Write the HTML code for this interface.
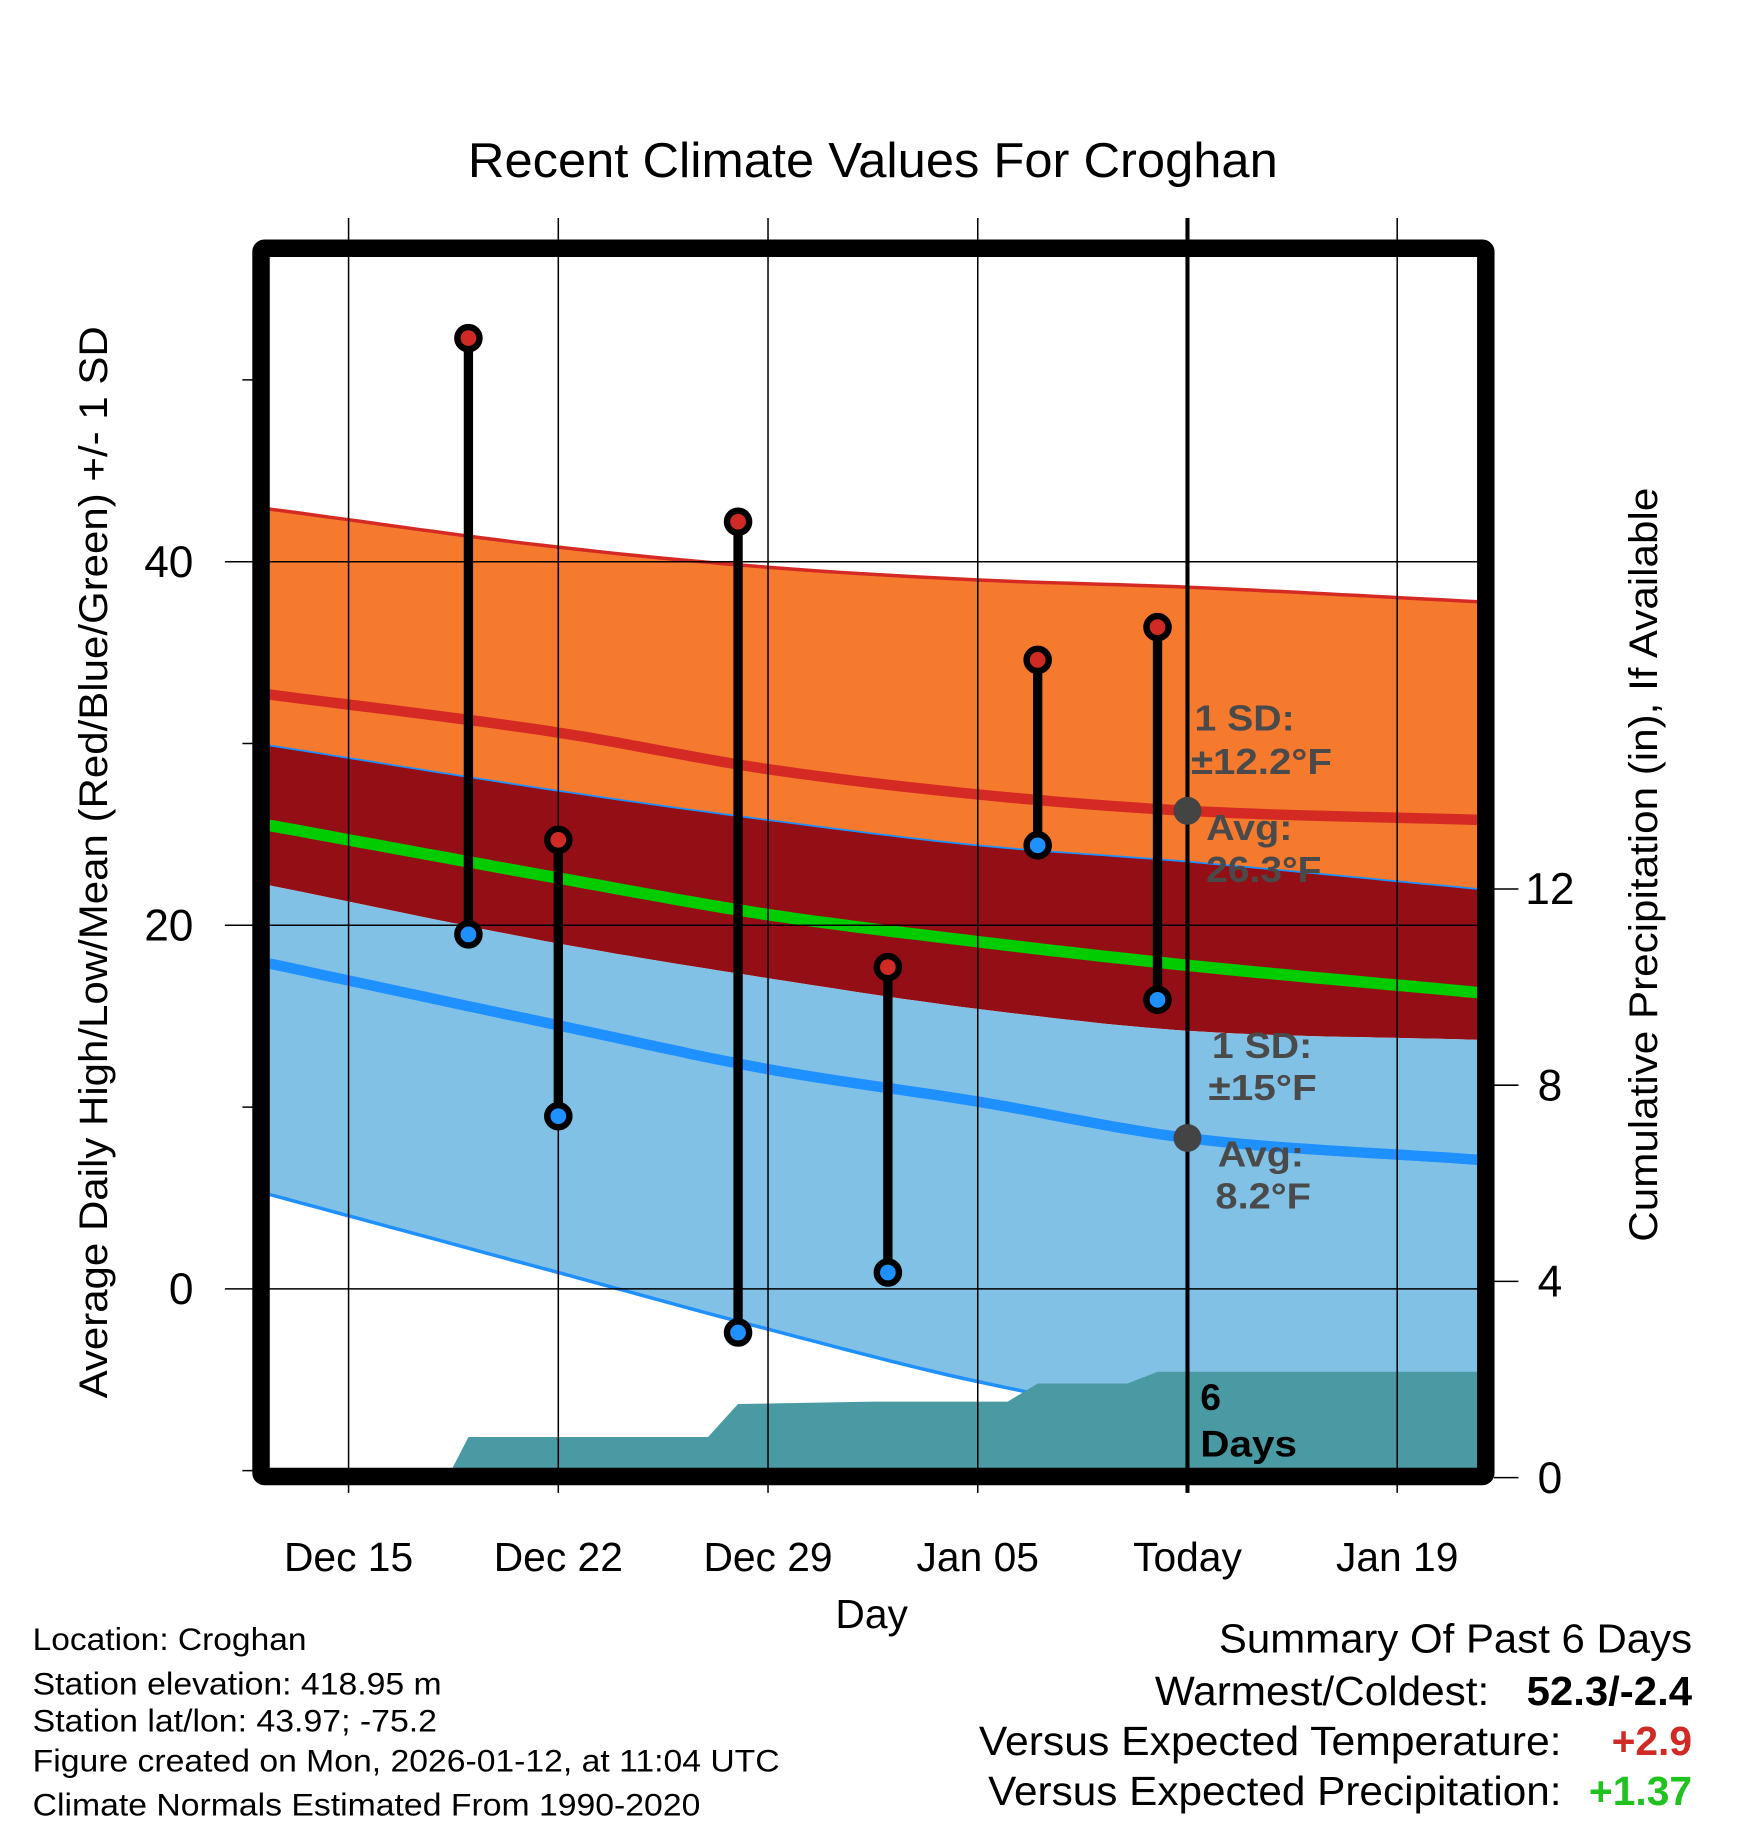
<!DOCTYPE html>
<html><head><meta charset="utf-8"><style>
html,body{margin:0;padding:0;background:#fff;}
svg{display:block;font-family:"Liberation Sans",Arial,sans-serif;}
</style></head><body>
<svg id="chart" width="1748" height="1828" viewBox="0 0 1500 1568.6" xmlns="http://www.w3.org/2000/svg">
<text x="749" y="152" font-size="42" text-anchor="middle" textLength="695" lengthAdjust="spacingAndGlyphs">Recent Climate Values For Croghan</text>
<g id="plot"></g>
<text x="748" y="1397" font-size="35" text-anchor="middle">Day</text>
<text transform="translate(92,740) rotate(-90)" font-size="34" text-anchor="middle" textLength="920" lengthAdjust="spacingAndGlyphs">Average Daily High/Low/Mean (Red/Blue/Green) +/- 1 SD</text>
<text transform="translate(1422,742) rotate(-90)" font-size="34" text-anchor="middle" textLength="647" lengthAdjust="spacingAndGlyphs">Cumulative Precipitation (in), If Available</text>
<g font-size="27">
<text x="28" y="1416" textLength="235" lengthAdjust="spacingAndGlyphs">Location: Croghan</text>
<text x="28" y="1454" textLength="351" lengthAdjust="spacingAndGlyphs">Station elevation: 418.95 m</text>
<text x="28" y="1486" textLength="347" lengthAdjust="spacingAndGlyphs">Station lat/lon: 43.97; -75.2</text>
<text x="28" y="1520" textLength="641" lengthAdjust="spacingAndGlyphs">Figure created on Mon, 2026-01-12, at 11:04 UTC</text>
<text x="28" y="1558" textLength="573" lengthAdjust="spacingAndGlyphs">Climate Normals Estimated From 1990-2020</text>
</g>
<g font-size="35">
<text x="1452" y="1418" text-anchor="end" textLength="406" lengthAdjust="spacingAndGlyphs">Summary Of Past 6 Days</text>
<text x="1278" y="1463" text-anchor="end" textLength="287" lengthAdjust="spacingAndGlyphs">Warmest/Coldest:</text>
<text x="1452" y="1463" text-anchor="end" font-weight="bold" textLength="142" lengthAdjust="spacingAndGlyphs">52.3/-2.4</text>
<text x="1340" y="1506" text-anchor="end" textLength="500" lengthAdjust="spacingAndGlyphs">Versus Expected Temperature:</text>
<text x="1452" y="1506" text-anchor="end" font-weight="bold" fill="#d02a25">+2.9</text>
<text x="1340" y="1549" text-anchor="end" textLength="492" lengthAdjust="spacingAndGlyphs">Versus Expected Precipitation:</text>
<text x="1452" y="1549" text-anchor="end" font-weight="bold" fill="#1fc21f">+1.37</text>
</g>
</svg>
<script>
// Normals (days relative to today)
const normDays = [-30.65, -21, -14.04, -7, 0, 9.69];
const highPlusSD = [42.9, 40.8, 39.7, 39.0, 38.6, 37.8];
const highAvg = [32.7, 30.6, 28.6, 27.2, 26.3, 25.8];
const highMinusSD = [29.9, 27.4, 25.8, 24.4, 23.5, 22.0];
const meanAvg = [25.5, 22.6, 20.6, 19.1, 17.8, 16.3];
const lowPlusSD = [22.2, 19.0, 17.1, 15.4, 14.2, 13.7];
const lowAvg = [17.9, 14.5, 12.1, 10.3, 8.3, 7.1];
const lowMinusSD = [5.2, 0.9, -2.2, -5.1, -7.2, -8.6];
// Observations
const obsDays = [-24, -21, -15, -10, -5, -1];
const obsHigh = [52.3, 24.7, 42.2, 17.7, 34.6, 36.4];
const obsLow = [19.5, 9.5, -2.4, 0.9, 24.4, 15.9];
// Cumulative precipitation
const precDays = [-24.7, -24, -16, -15, -10.5, -6, -5, -2, -1, 9.69];
const precVals = [0, 0.83, 0.83, 1.5, 1.55, 1.55, 1.92, 1.92, 2.16, 2.16];
// Axes ticks
const xTickDays = [-28, -21, -14, -7, 0, 7];
const xTickLabels = ["Dec 15", "Dec 22", "Dec 29", "Jan 05", "Today", "Jan 19"];
const yMajor = [40, 20, 0];
const yMinor = [50, 30, 10, -10];
const y2Ticks = [0, 4, 8, 12];

const X = d => 1019 + d * 25.71;
const Y = t => 1106 - t * 15.6;
const Y2 = p => 1268 - p * 42.1;
const L = 231, R = 1268, T = 220, B = 1260;
const NS = "http://www.w3.org/2000/svg";
const g = document.getElementById('plot');
function mk(tag, attrs, parent) {
  const e = document.createElementNS(NS, tag);
  for (const k in attrs) e.setAttribute(k, attrs[k]);
  (parent || g).appendChild(e);
  return e;
}
// smooth sampling via monotone-ish cubic interpolation
function interp(ds, vs, d) {
  let i = 0;
  while (i < ds.length - 2 && d > ds[i + 1]) i++;
  const x0 = ds[i], x1 = ds[i + 1], y0 = vs[i], y1 = vs[i + 1];
  const m = (a) => {
    if (a === 0) return (vs[1] - vs[0]) / (ds[1] - ds[0]);
    if (a === ds.length - 1) return (vs[a] - vs[a - 1]) / (ds[a] - ds[a - 1]);
    return ((vs[a] - vs[a - 1]) / (ds[a] - ds[a - 1]) + (vs[a + 1] - vs[a]) / (ds[a + 1] - ds[a])) / 2;
  };
  const h = x1 - x0, t = (d - x0) / h;
  const h00 = 2*t*t*t - 3*t*t + 1, h10 = t*t*t - 2*t*t + t, h01 = -2*t*t*t + 3*t*t, h11 = t*t*t - t*t;
  return h00*y0 + h10*h*m(i) + h01*y1 + h11*h*m(i + 1);
}
function smoothPts(vals) {
  const out = [];
  const a = normDays[0], b = normDays[normDays.length - 1];
  for (let k = 0; k <= 80; k++) {
    const d = a + (b - a) * k / 80;
    out.push(X(d).toFixed(1) + ',' + Y(interp(normDays, vals, d)).toFixed(1));
  }
  return out;
}
const pts = (ds, vs, f) => ds.map((d, i) => X(d).toFixed(1) + ',' + f(vs[i]).toFixed(1));
const clip = mk('clipPath', {id: 'pc'});
mk('rect', {x: L, y: T, width: R - L, height: B - T}, clip);
const pg = mk('g', {'clip-path': 'url(#pc)'});
function band(top, bot, fill, name) {
  const p = smoothPts(top).concat(smoothPts(bot).reverse());
  const e = mk('polygon', {points: p.join(' '), fill: fill}, pg);
  
  
}
function line(vals, color, w, name) {
  const e = mk('polyline', {points: smoothPts(vals).join(' '), fill: 'none', stroke: color, 'stroke-width': w}, pg);
  
  
}
band(highPlusSD, highMinusSD, '#f57a2e', 'high-sd-band');
band(highMinusSD, lowPlusSD, '#930f15', 'overlap-band');
band(lowPlusSD, lowMinusSD, '#82c1e6', 'low-sd-band');
line(highPlusSD, '#d42a23', 3, 'high-plus-sd-line');
line(highAvg, '#d42a23', 9, 'avg-high-line');
line(highMinusSD, '#1e90ff', 1.5, 'high-minus-sd-line');
line(meanAvg, '#00cc00', 10, 'avg-mean-line');
line(lowAvg, '#1e90ff', 9, 'avg-low-line');
line(lowMinusSD, '#1e90ff', 3, 'low-minus-sd-line');
// precip
{
  const p = pts(precDays, precVals, Y2);
  p.push(X(precDays[precDays.length - 1]).toFixed(1) + ',' + Y2(0));
  p.push(X(precDays[0]).toFixed(1) + ',' + Y2(0));
  const e = mk('polygon', {points: p.join(' '), fill: '#4a9aa3'}, pg);
  
  
}
// grid verticals
xTickDays.forEach((d, i) => {
  const today = d === 0;
  const e = mk('line', {x1: X(d), x2: X(d), y1: 187, y2: 1281, stroke: '#000', 'stroke-width': today ? 3.5 : 1.3});
  
  
  const t = mk('text', {x: X(d), y: 1348, 'font-size': 35, 'text-anchor': 'middle'});
  t.textContent = xTickLabels[i];
  
  
});
yMajor.forEach(v => {
  const e = mk('line', {x1: 193, x2: R, y1: Y(v), y2: Y(v), stroke: '#000', 'stroke-width': 1.3});
  
  
  const t = mk('text', {x: 166, y: Y(v) + 13, 'font-size': 38, 'text-anchor': 'end'});
  t.textContent = v;
  
  
});
yMinor.forEach(v => {
  const e = mk('line', {x1: 208, x2: L, y1: Y(v), y2: Y(v), stroke: '#000', 'stroke-width': 1.3});
  
  
});
y2Ticks.forEach(v => {
  const e = mk('line', {x1: 1282, x2: 1303, y1: Y2(v), y2: Y2(v), stroke: '#000', 'stroke-width': 1.3});
  
  
  const t = mk('text', {x: 1330, y: Y2(v) + 13, 'font-size': 38, 'text-anchor': 'middle'});
  t.textContent = v;
  
  
});
// annotations
function txt(x, y, s, size, w, fill, name, len) {
  const t = mk('text', {x: x, y: y, 'font-size': size, 'font-weight': w, fill: fill});
  if (len) { t.setAttribute('textLength', len); t.setAttribute('lengthAdjust', 'spacingAndGlyphs'); }
  t.textContent = s;
  
  
}
const gray = '#4a4a4a';
txt(1025, 627, '1 SD:', 31, 'bold', gray, 'high-sd-label', 86);
txt(1022, 664, '±12.2°F', 31, 'bold', gray, 'high-sd-value', 121);
txt(1035, 721, 'Avg:', 31, 'bold', gray, 'high-avg-label', 74);
txt(1035, 757, '26.3°F', 31, 'bold', gray, 'high-avg-value', 99);
txt(1040, 908, '1 SD:', 31, 'bold', gray, 'low-sd-label', 86);
txt(1037, 944, '±15°F', 31, 'bold', gray, 'low-sd-value', 93);
txt(1045, 1001, 'Avg:', 31, 'bold', gray, 'low-avg-label', 74);
txt(1043, 1037, '8.2°F', 31, 'bold', gray, 'low-avg-value', 82);
{
  const c1 = mk('circle', {cx: X(0), cy: Y(highAvg[4]), r: 12, fill: '#444'});
  
  
  const c2 = mk('circle', {cx: X(0), cy: Y(lowAvg[4]), r: 12, fill: '#444'});
  
  
}
txt(1030, 1210, '6', 32, 'bold', '#000', 'days-count');
txt(1030, 1250, 'Days', 32, 'bold', '#000', 'days-label', 83);
// observations
obsDays.forEach((d, i) => {
  const s = mk('line', {x1: X(d), x2: X(d), y1: Y(obsHigh[i]), y2: Y(obsLow[i]), stroke: '#000', 'stroke-width': 8});
  
  
  const h = mk('circle', {cx: X(d), cy: Y(obsHigh[i]), r: 9.5, fill: '#d02a25', stroke: '#000', 'stroke-width': 5.5});
  
  
  const l = mk('circle', {cx: X(d), cy: Y(obsLow[i]), r: 9.5, fill: '#1e90ff', stroke: '#000', 'stroke-width': 5.5});
  
  
});
// frame
{
  const f = mk('rect', {x: 224, y: 213, width: 1051, height: 1054, fill: 'none', stroke: '#000', 'stroke-width': 15, rx: 3});
  
  
}
</script>
</body></html>
